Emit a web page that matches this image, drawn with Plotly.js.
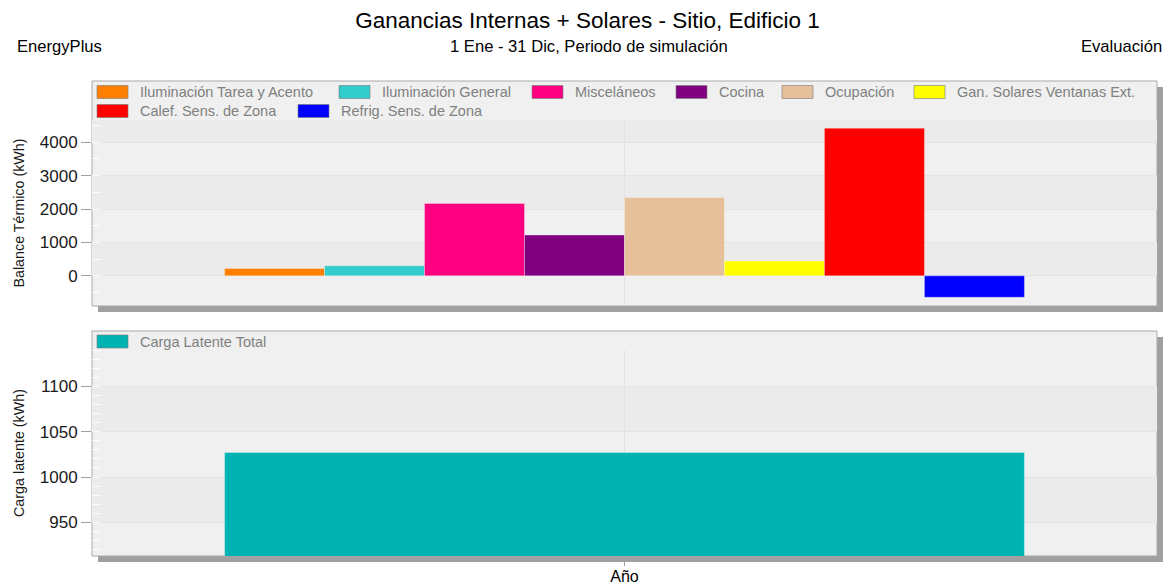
<!DOCTYPE html>
<html>
<head>
<meta charset="utf-8">
<script src="https://cdn.plot.ly/plotly-3.0.1.min.js"></script>
<style>html,body{margin:0;padding:0;background:#fff;}#chart{width:1175px;height:586px;}</style>
</head>
<body>
<div id="chart"></div>
<script>
// ---- data ----
const categories = ['Año'];
const seriesNames = ['Iluminación Tarea y Acento', 'Iluminación General', 'Misceláneos', 'Cocina',
  'Ocupación', 'Gan. Solares Ventanas Ext.', 'Calef. Sens. de Zona', 'Refrig. Sens. de Zona'];
const seriesValues = [220, 300, 2165, 1222, 2342, 442, 4420, -641];
const seriesColors = ['#ff8000', '#33cccc', '#ff0080', '#800080', '#e5c09b', '#ffff00', '#ff0000', '#0000ff'];
const latentNames = ['Carga Latente Total'];
const latentValues = [1027];
const latentColors = ['#00b3b3'];
const topTicks = [0, 1000, 2000, 3000, 4000];
const bottomTicks = [950, 1000, 1050, 1100];

// ---- layout helpers (pixel -> paper) ----
const W = 1175, H = 586;
const M = {l: 92, r: 18, t: 120, b: 30};
const PW = W - M.l - M.r, PH = H - M.t - M.b;
const px = v => (v - M.l) / PW;
const py = v => (H - M.b - v) / PH;

const FONT = "'Liberation Sans', Arial, sans-serif";
const LIGHT = '#eff0ef', DARK = '#eaebea', GRID = '#e2e3e2', BORDER = '#a8a8a8', SHADOW = '#a0a0a0';

const topRange = [-903, 4666];
const botRange = [913, 1140];

const traces = [];
seriesNames.forEach((n, i) => {
  traces.push({type: 'bar', name: n, x: categories, y: [seriesValues[i]], xaxis: 'x', yaxis: 'y',
    marker: {color: seriesColors[i], line: {color: 'rgba(255,255,255,0.3)', width: 1}},
    showlegend: false, hoverinfo: 'name+y'});
});
latentNames.forEach((n, i) => {
  traces.push({type: 'bar', name: n, x: categories, y: [latentValues[i]], xaxis: 'x2', yaxis: 'y2',
    marker: {color: latentColors[i], line: {color: 'rgba(255,255,255,0.3)', width: 1}},
    showlegend: false, hoverinfo: 'name+y'});
});

const shapes = [];
function panel(top, bottom) {
  shapes.push({type: 'rect', xref: 'paper', yref: 'paper', layer: 'below',
    x0: px(98), x1: px(1163), y0: py(bottom + 6), y1: py(top + 6), fillcolor: SHADOW, line: {width: 0}});
  shapes.push({type: 'rect', xref: 'paper', yref: 'paper', layer: 'below',
    x0: px(92), x1: px(1157), y0: py(bottom), y1: py(top), fillcolor: LIGHT, line: {color: BORDER, width: 1}});
}
panel(81, 306);
panel(331, 556);

function bands(ticks, range, yref) {
  const edges = [range[0]].concat(ticks, [range[1]]);
  for (let i = 1; i < edges.length - 1; i += 2) {
    shapes.push({type: 'rect', xref: 'x domain', yref: yref, layer: 'below',
      x0: 0, x1: 1, y0: edges[i], y1: edges[i + 1], fillcolor: DARK, line: {width: 0}});
  }
}
bands(topTicks, topRange, 'y');
bands(bottomTicks, botRange, 'y2');

const annotations = [];
function note(text, xPx, yPx, anchor, size, color) {
  annotations.push({text: text, xref: 'paper', yref: 'paper', x: px(xPx), y: py(yPx),
    xanchor: anchor, yanchor: 'middle', showarrow: false, font: {family: FONT, size: size, color: color}});
}
note('EnergyPlus', 15, 46, 'left', 16.6, '#000');
note('1 Ene - 31 Dic, Periodo de simulación', 589, 46, 'center', 16.6, '#000');
note('Evaluación', 1164, 46, 'right', 16.6, '#000');

// legends (drawn as swatches + text)
function legendItem(name, color, xPx, yPx) {
  shapes.push({type: 'rect', xref: 'paper', yref: 'paper', layer: 'above',
    x0: px(xPx), x1: px(xPx + 31), y0: py(yPx + 6.5), y1: py(yPx - 6.5),
    fillcolor: color, line: {color: 'rgba(120,120,120,0.6)', width: 1}});
  note(name, xPx + 41, yPx, 'left', 14.5, '#808080');
}
const legendPos = [[97, 92], [339, 92], [532, 92], [676, 92], [782, 92], [914, 92], [97, 111], [298, 111]];
seriesNames.forEach((n, i) => legendItem(n, seriesColors[i], legendPos[i][0], legendPos[i][1]));
latentNames.forEach((n, i) => legendItem(n, latentColors[i], 97, 341.5));

const yCommon = {
  tickmode: 'array', ticks: 'outside', ticklen: 10, tickwidth: 1, tickcolor: '#a0a0a0',
  tickfont: {family: FONT, size: 17, color: '#1a1a1a'}, showgrid: true, gridcolor: GRID, gridwidth: 1,
  zeroline: false, showline: false, fixedrange: true
};

const layout = {
  width: W, height: H, margin: {l: M.l, r: M.r, t: M.t, b: M.b, pad: 0},
  paper_bgcolor: '#ffffff', plot_bgcolor: 'rgba(0,0,0,0)',
  font: {family: FONT, color: '#1a1a1a'},
  title: {text: 'Ganancias Internas + Solares - Sitio, Edificio 1', xref: 'container', x: 0.5, xanchor: 'center',
    yref: 'container', y: 1 - 20 / H, yanchor: 'middle', font: {family: FONT, size: 22.5, color: '#000'}},
  barmode: 'group', bargap: 0.249, bargroupgap: 0,
  showlegend: false,
  xaxis: {domain: [0, 1], anchor: 'y', type: 'category', range: [-0.5, 0.5], showticklabels: false, ticks: '',
    showgrid: true, gridcolor: GRID, zeroline: false, showline: false, fixedrange: true},
  yaxis: Object.assign({}, yCommon, {domain: [py(306), 1], anchor: 'x', range: topRange,
    tickvals: topTicks, ticktext: topTicks.map(String),
    minor: {tickmode: 'linear', tick0: 0, dtick: 500, ticks: 'inside', ticklen: 9, tickcolor: 'rgba(255,255,255,0.8)', showgrid: false},
    title: {text: 'Balance Térmico (kWh)', font: {family: FONT, size: 14.3, color: '#1a1a1a'}, standoff: 11}}),
  xaxis2: {domain: [0, 1], anchor: 'y2', type: 'category', range: [-0.5, 0.5], ticks: 'outside', ticklen: 9,
    tickcolor: '#a0a0a0', tickfont: {family: FONT, size: 16, color: '#000'}, ticklabelstandoff: -3,
    showgrid: true, gridcolor: GRID, zeroline: false, showline: false, fixedrange: true},
  yaxis2: Object.assign({}, yCommon, {domain: [0, py(350)], anchor: 'x2', range: botRange,
    tickvals: bottomTicks, ticktext: bottomTicks.map(String),
    minor: {tickmode: 'linear', tick0: 950, dtick: 10, ticks: 'inside', ticklen: 9, tickcolor: 'rgba(255,255,255,0.8)', showgrid: false},
    title: {text: 'Carga latente (kWh)', font: {family: FONT, size: 14.3, color: '#1a1a1a'}, standoff: 11}}),
  shapes: shapes,
  annotations: annotations
};

Plotly.newPlot('chart', traces, layout, {displayModeBar: false, staticPlot: true});
</script>
</body>
</html>
